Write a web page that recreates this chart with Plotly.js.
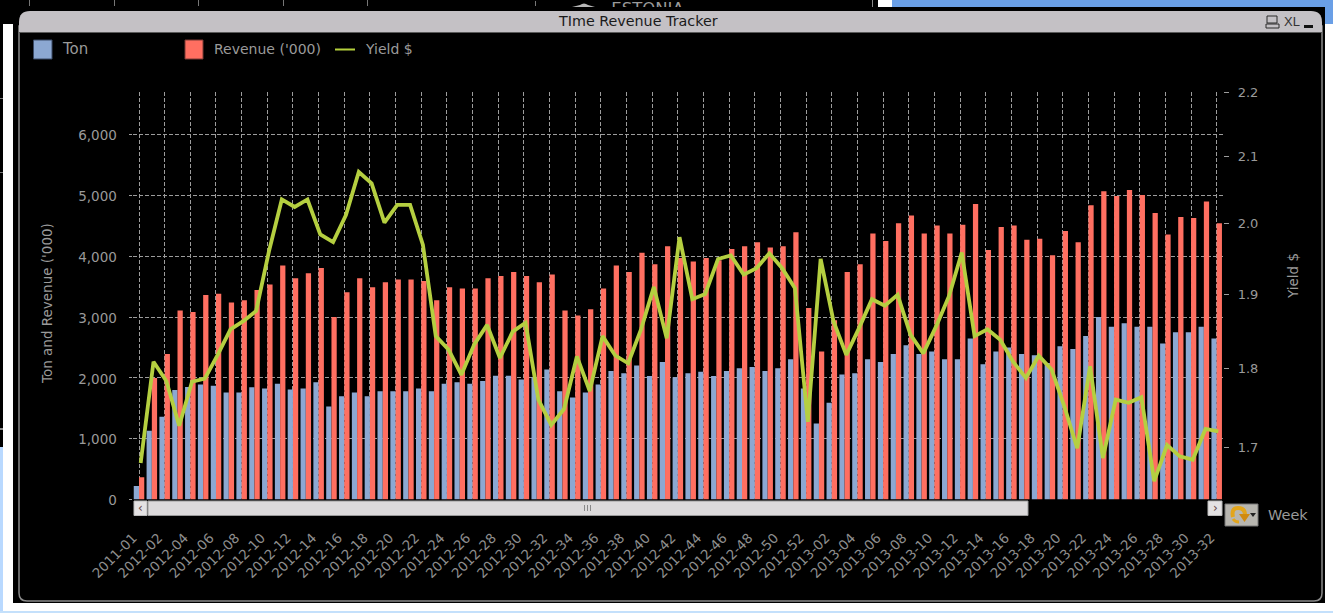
<!DOCTYPE html>
<html><head><meta charset="utf-8">
<script src="https://cdn.plot.ly/plotly-3.0.1.min.js"></script>
<style>html,body{margin:0;padding:0;background:#000;overflow:hidden}#c{width:1333px;height:613px}</style>
</head><body><div id="c"></div>
<script>
const weeks = ["2011-01",
"2012-01","2012-02","2012-03","2012-04","2012-05","2012-06","2012-07","2012-08","2012-09","2012-10",
"2012-11","2012-12","2012-13","2012-14","2012-15","2012-16","2012-17","2012-18","2012-19","2012-20",
"2012-21","2012-22","2012-23","2012-24","2012-25","2012-26","2012-27","2012-28","2012-29","2012-30",
"2012-31","2012-32","2012-33","2012-34","2012-35","2012-36","2012-37","2012-38","2012-39","2012-40",
"2012-41","2012-42","2012-43","2012-44","2012-45","2012-46","2012-47","2012-48","2012-49","2012-50",
"2012-51","2012-52",
"2013-01","2013-02","2013-03","2013-04","2013-05","2013-06","2013-07","2013-08","2013-09","2013-10",
"2013-11","2013-12","2013-13","2013-14","2013-15","2013-16","2013-17","2013-18","2013-19","2013-20",
"2013-21","2013-22","2013-23","2013-24","2013-25","2013-26","2013-27","2013-28","2013-29","2013-30",
"2013-31","2013-32"];
const weekTicks = ["2011-01","2012-02","2012-04","2012-06","2012-08","2012-10","2012-12","2012-14","2012-16","2012-18","2012-20","2012-22","2012-24","2012-26","2012-28","2012-30","2012-32","2012-34","2012-36","2012-38","2012-40","2012-42","2012-44","2012-46","2012-48","2012-50","2012-52","2013-02","2013-04","2013-06","2013-08","2013-10","2013-12","2013-14","2013-16","2013-18","2013-20","2013-22","2013-24","2013-26","2013-28","2013-30","2013-32"];
const ton = [220,1130,1360,1800,1850,1890,1870,1760,1760,1845,1825,1905,1810,1825,1930,1530,1700,1760,1700,1780,1780,1780,1825,1780,1905,1930,1905,1950,2035,2035,
1975,2015,2137,1780,1677,1760,1890,2115,2077,2203,2033,2263,2010,2077,2100,2033,2115,2160,2180,2115,2160,2307,1825,1250,1590,2055,2077,2307,2263,2395,
2537,2395,2433,2307,2307,2647,2225,2433,2500,2395,2373,2247,2520,2477,2690,3003,2840,2900,2840,2840,2565,2750,2750,2840,2647];
const revenue = [367,2000,2395,3107,3085,3365,3385,3240,3277,3447,3535,3847,3640,3720,3808,3003,3408,3640,3490,3573,3617,3617,3595,3277,3490,3470,3470,3640,3677,3743,
3677,3573,3700,3107,3025,3130,3470,3847,3743,4060,3870,4165,3973,3913,3973,3935,4120,4165,4230,4143,4165,4395,3150,2433,2950,3743,3870,4373,4252,4543,
4670,4373,4505,4373,4520,4860,4105,4483,4505,4270,4290,4017,4417,4230,4840,5070,4992,5090,5010,4713,4357,4647,4630,4900,4543];
const yieldUsd = [1.681,1.809,1.784,1.727,1.783,1.787,1.818,1.852,1.863,1.877,1.960,2.035,2.024,2.035,1.984,1.973,2.012,2.076,2.059,2.001,2.027,2.027,1.969,1.843,1.825,1.792,1.832,1.858,1.814,1.849,
1.861,1.760,1.728,1.748,1.816,1.771,1.843,1.817,1.807,1.852,1.910,1.840,1.980,1.893,1.900,1.949,1.954,1.927,1.936,1.957,1.936,1.908,1.732,1.949,1.863,1.818,1.854,1.893,1.884,1.899,
1.845,1.820,1.856,1.897,1.958,1.843,1.852,1.838,1.809,1.788,1.817,1.799,1.751,1.699,1.803,1.687,1.760,1.756,1.763,1.659,1.703,1.689,1.685,1.723,1.720];
const leftTicks = [0,1000,2000,3000,4000,5000,6000];
const rightTicks = [1.7,1.8,1.9,2.0,2.1,2.2];

const W=1333,H=613;
const FONT='"DejaVu Sans", sans-serif';
const GREY='#9a9a9a';
const px=x=>x/W, py=y=>1-y/H;
function rect(x0,y0,x1,y1,fill,line,lw){return {type:'rect',xref:'paper',yref:'paper',layer:'below',x0:px(x0),x1:px(x1),y0:py(y0),y1:py(y1),fillcolor:fill||'rgba(0,0,0,0)',line:{color:line||'rgba(0,0,0,0)',width:line?(lw||1):0}};}
function path(cmds,fill,line,lw){
  const d=cmds.map(c=>typeof c==='string'?c:(c.length===4?`Q${px(c[0])},${py(c[1])} ${px(c[2])},${py(c[3])}`:`${c[2]||'L'}${px(c[0])},${py(c[1])}`)).join(' ');
  return {type:'path',xref:'paper',yref:'paper',layer:'below',path:d,fillcolor:fill||'rgba(0,0,0,0)',line:{color:line||'rgba(0,0,0,0)',width:line?(lw||1):0}};
}
function note(x,y,text,opt){return Object.assign({xref:'paper',yref:'paper',x:px(x),y:py(y),text:text,showarrow:false,xanchor:'left',yanchor:'middle',font:{family:FONT,size:14,color:GREY}},opt||{});}

const clipped=rect(600,-1,695,15,'rgba(0,0,0,0)');
clipped.label={text:'ESTONIA',font:{family:FONT,size:16.5,color:'#9a9a9a'},textposition:'middle center'};

const shapes=[
  rect(3,24,13,611,'#ffffff'),
  rect(0,447,3,613,'#b9d9ff'),
  rect(3,603,1333,611,'#ffffff'),
  rect(0,611,1333,613,'#c4e0fb'),
  rect(1325,24,1333,611,'#ffffff'),
  rect(1325,7,1333,24,'#6a9fe6'),
  rect(892,0,1333,7,'#6a9fe6'),
  rect(878,0,892,7,'#ffffff'),
  rect(872,0,873,7,'#888888'),
  rect(0,428,3,430,'#888888'),
  rect(0,98,3,99,'#777777'),rect(0,172,3,173,'#777777'),
  rect(29,0,30,6,'#777777'),rect(114,0,115,6,'#777777'),rect(198,0,199,6,'#777777'),rect(283,0,284,6,'#777777'),rect(367,0,368,6,'#777777'),rect(535,1,536,6,'#777777'),
  // clipped neighbouring window text at the top
  clipped,
  path([[572,7,'M'],[580,5],[584,2,588,5],[595,7],'Z'],'#b8b8b8'),
  rect(560,7,720,11,'#000000'),
  // window frame
  path([[19,26,'M'],[19,593],[19,601,27,601],[1314,601],[1322,601,1322,593],[1322,26],'Z'],null,'#8a8a8a',1.5),
  // title bar
  path([[19,32,'M'],[19,22],[19,11,30,11],[1311,11],[1322,11,1322,22],[1322,32],'Z'],'#c4c1c5'),
  rect(19,32,1322,33,'#5a5a5a'),
  // print icon and minimise
  rect(1267,16,1277,23,null,'#2a2a2a',1),
  rect(1266,24,1279,28,null,'#2a2a2a',1),
  rect(1304,25,1313,28,'#111111'),
  // legend swatches
  rect(33.5,40,52,59,'#8ca8d2','#3a4a66',1),
  rect(185,40,203,59,'#ff6f61','#7a3a34',1),
  rect(335,48.5,355,50.5,'#b5d03c'),
  // scrollbar
  rect(148,501,1028,515.5,'#dcdadb','#9a9a9a',1),
  rect(134,501,147,515.5,'#e4e2e3','#bbbbbb',1),
  rect(1208,501,1222,515.5,'#e4e2e3','#bbbbbb',1),
  rect(584,505,585,511,'#888888'),rect(587,505,588,511,'#888888'),rect(590,505,591,511,'#888888'),
  // refresh button
  rect(1225,504,1258,526,'#b8b6b0','#777777',1),
  path([[1233,517,'M'],[1231,508,1238,508],[1245,508,1245,515]],null,'#e2a51c',4),
  path([[1239,514,'M'],[1250,514],[1244.5,522],'Z'],'#d08a10'),
  path([[1233,519,'M'],[1235,522,1239,522]],null,'#e2a51c',3),
  path([[1250,513,'M'],[1256,513],[1253,517],'Z'],'#222222')
];

const annotations=[
  note(638,21,'TIme Revenue Tracker',{xanchor:'center',font:{family:FONT,size:14.3,color:'#1a1a1a'}}),
  note(1282,21,'XL',{font:{family:'"Liberation Sans",sans-serif',size:13,color:'#333333'}}),
  note(60,49,'Ton',{font:{family:FONT,size:15,color:GREY}}),
  note(212,49,"Revenue ('000)"),
  note(363,49,'Yield $'),
  note(47,303,"Ton and Revenue ('000)",{textangle:-90,xanchor:'center',font:{family:FONT,size:13.5,color:GREY}}),
  note(1293,276,'Yield $',{textangle:-90,xanchor:'center',font:{family:FONT,size:13.5,color:GREY}}),
  note(1266,515,'Week',{font:{family:FONT,size:14.5,color:GREY}}),
  note(140.5,508,'‹',{xanchor:'center',font:{family:FONT,size:12,color:'#664444'}}),
  note(1215,508,'›',{xanchor:'center',font:{family:FONT,size:12,color:'#664444'}})
];

const data=[
 {type:'bar',name:'Ton',x:weeks,y:ton,marker:{color:'#8ca8d2',line:{width:0}}},
 {type:'bar',name:"Revenue ('000)",x:weeks,y:revenue,marker:{color:'#ff6f61',line:{width:0}}},
 {type:'scatter',mode:'lines',name:'Yield $',x:weeks,y:yieldUsd,xaxis:'x2',yaxis:'y2',line:{color:'#b5cf40',width:3.8}}
];
const xDomain=[px(132.6),px(1223.1)], yDomain=[py(499.5),py(92)];
const layout={
 width:W,height:H,margin:{l:0,r:0,t:0,b:0},
 paper_bgcolor:'#000',plot_bgcolor:'rgba(0,0,0,0)',
 showlegend:false,barmode:'group',bargap:0.18,bargroupgap:0,hovermode:false,
 font:{family:FONT,size:13.5,color:GREY},
 xaxis:{domain:xDomain,anchor:'y',type:'category',categoryorder:'array',categoryarray:weeks,range:[-0.5,84.5],
   tickmode:'array',tickvals:weekTicks,ticktext:weekTicks,tickangle:-45,ticklen:0,ticklabelstandoff:27,ticklabelshift:-6,
   tickfont:{family:FONT,size:13.5,color:'#8e8e8e'},showgrid:true,gridcolor:'#9c9c9c',griddash:'4px,2px',gridwidth:1,showline:false,zeroline:false},
 xaxis2:{domain:xDomain,anchor:'y2',overlaying:'x',type:'category',categoryorder:'array',categoryarray:weeks,range:[-0.63,84.37],visible:false},
 yaxis:{domain:yDomain,anchor:'x',range:[0,6702],tickmode:'array',tickvals:leftTicks,ticktext:['0','1,000','2,000','3,000','4,000','5,000','6,000'],
   ticks:'outside',ticklen:3,tickcolor:'#9c9c9c',ticklabelstandoff:9,ticklabelshift:1,tickfont:{family:FONT,size:13.5,color:GREY},
   showgrid:true,gridcolor:'#9c9c9c',griddash:'4px,2px',gridwidth:1,zeroline:false,showline:false},
 yaxis2:{domain:yDomain,anchor:'x2',overlaying:'y',side:'right',type:'log',range:[Math.log10(1.637),Math.log10(2.2)],
   tickmode:'array',tickvals:rightTicks,ticktext:['1.7','1.8','1.9','2.0','2.1','2.2'],ticks:'outside',ticklen:5,tickcolor:'#9c9c9c',ticklabelstandoff:6,ticklabelshift:0.5,
   tickfont:{family:FONT,size:13,color:GREY},showgrid:false,zeroline:false,showline:false},
 shapes:shapes,annotations:annotations
};
Plotly.newPlot('c',data,layout,{displayModeBar:false,staticPlot:true});
</script></body></html>
